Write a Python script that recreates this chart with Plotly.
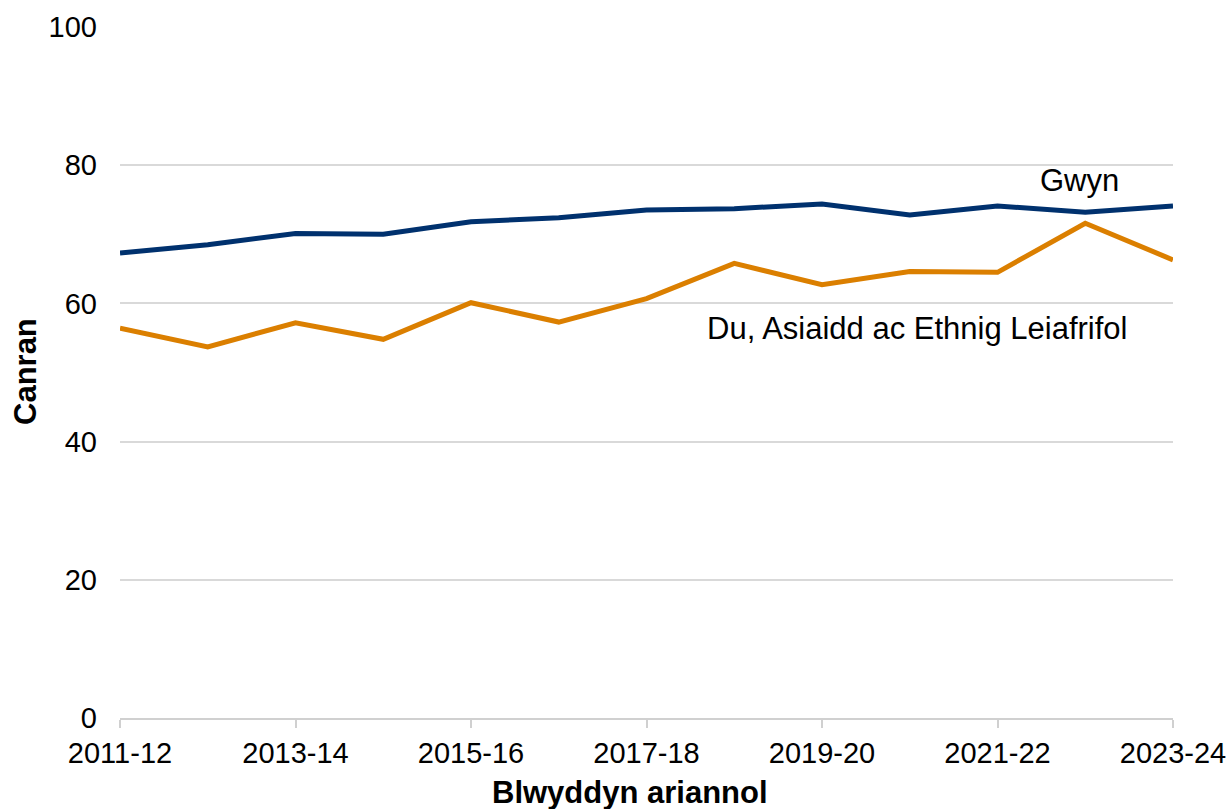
import plotly.graph_objects as go

years = ["2011-12", "2012-13", "2013-14", "2014-15", "2015-16", "2016-17", "2017-18",
         "2018-19", "2019-20", "2020-21", "2021-22", "2022-23", "2023-24"]
gwyn = [67.3, 68.5, 70.1, 70.0, 71.8, 72.4, 73.5, 73.7, 74.4, 72.8, 74.1, 73.2, 74.1]
bame = [56.4, 53.7, 57.2, 54.8, 60.1, 57.3, 60.7, 65.8, 62.7, 64.6, 64.5, 71.6, 66.3]
tick_labels = ["2011-12", "2013-14", "2015-16", "2017-18", "2019-20", "2021-22", "2023-24"]
y_ticks = [0, 20, 40, 60, 80, 100]

FONT = "Liberation Sans, Arial, sans-serif"
FS = 29
FA = 31

fig = go.Figure()
fig.add_trace(go.Scatter(x=years, y=gwyn, mode="lines", name="Gwyn",
                         line=dict(color="#00316E", width=5)))
fig.add_trace(go.Scatter(x=years, y=bame, mode="lines", name="Du, Asiaidd ac Ethnig Leiafrifol",
                         line=dict(color="#DB7F00", width=5)))

fig.update_layout(
    width=1226, height=809,
    margin=dict(l=120, r=53, t=27, b=91, autoexpand=False),
    paper_bgcolor="white", plot_bgcolor="white",
    showlegend=False,
    font=dict(family=FONT, size=FS, color="black"),
    xaxis=dict(
        type="category", range=[0, 12], tickmode="array",
        tickvals=tick_labels, ticktext=tick_labels, automargin=False,
        showgrid=False, showline=True, linecolor="#d0d0d0", linewidth=2,
        ticks="outside", ticklen=8, tickcolor="#d0d0d0", tickwidth=2,
        tickfont=dict(size=FS), zeroline=False,
    ),
    yaxis=dict(
        range=[0, 100], tickvals=y_ticks, showgrid=True, gridcolor="#d9d9d9", gridwidth=1.5,
        showline=False, zeroline=False, ticks="", ticklabelstandoff=22, automargin=False,
        tickfont=dict(size=FS),
    ),
    annotations=[
        dict(text="Gwyn", x=1079, y=180, showarrow=False, font=dict(size=FA)),
        dict(text="Du, Asiaidd ac Ethnig Leiafrifol", x=917, y=329, showarrow=False,
             font=dict(size=FA)),
        dict(text="<b>Blwyddyn ariannol</b>", x=630, y=792, showarrow=False, font=dict(size=FA)),
        dict(text="<b>Canran</b>", x=25, y=372, showarrow=False, textangle=-90, font=dict(size=FA)),
    ],
)

# convert pixel positions of annotations into paper coordinates
L, R, T, B = 120, 1226 - 53, 27, 809 - 91
for a in fig.layout.annotations:
    px, py = a.x, a.y
    a.xref = "paper"
    a.yref = "paper"
    a.x = (px - L) / (R - L)
    a.y = (B - py) / (B - T)
    a.xanchor = "center"
    a.yanchor = "middle"

fig.write_html("out.html", config={"displayModeBar": False},
               post_script="document.body.style.margin='0';")
